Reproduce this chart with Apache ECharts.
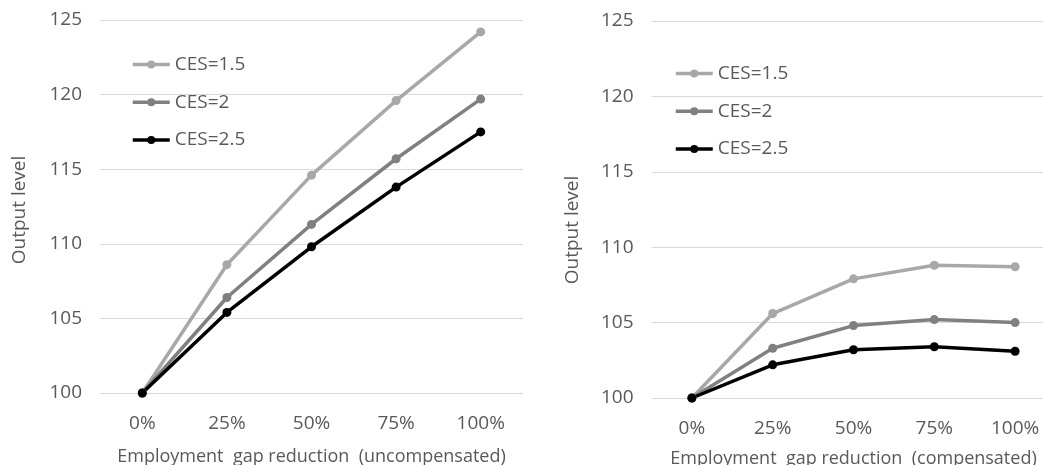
<!DOCTYPE html>
<html>
<head>
<meta charset="utf-8">
<script src="https://cdn.jsdelivr.net/npm/echarts@6/dist/echarts.min.js"></script>
<style>html,body{margin:0;padding:0;background:#fff}#c{width:1043px;height:465px}</style>
</head>
<body>
<div id="c"></div>
<script>
const categories = ['0%', '25%', '50%', '75%', '100%'];
const seriesNames = ['CES=1.5', 'CES=2', 'CES=2.5'];
const leftCes15 = [100, 108.6, 114.6, 119.6, 124.2];
const leftCes2 = [100, 106.4, 111.3, 115.7, 119.7];
const leftCes25 = [100, 105.4, 109.8, 113.8, 117.5];
const rightCes15 = [100, 105.6, 107.9, 108.8, 108.7];
const rightCes2 = [100, 103.3, 104.8, 105.2, 105.0];
const rightCes25 = [100, 102.2, 103.2, 103.4, 103.1];
const leftXName = 'Employment  gap reduction  (uncompensated)';
const rightXName = 'Employment  gap reduction  (compensated)';
const yName = 'Output level';

const colors = ['#a8a8a8', '#808080', '#000000'];
const FONT = 'Open Sans';
const TXT = '#595959';

const chart = echarts.init(document.getElementById('c'), null, {renderer: 'canvas'});

function xAxis(gi, name, margin, gap) {
  return {
    type: 'category', gridIndex: gi, data: categories, boundaryGap: true,
    axisLine: {show: false}, axisTick: {show: false},
    axisLabel: {color: TXT, fontFamily: FONT, fontSize: 19, margin: margin},
    name: name, nameLocation: 'middle', nameGap: gap,
    nameTextStyle: {color: TXT, fontFamily: FONT, fontSize: 18}
  };
}
function yAxis(gi, gap, pad) {
  return {
    type: 'value', gridIndex: gi, min: 100, max: 125, interval: 5,
    axisLine: {show: false}, axisTick: {show: false},
    splitLine: {lineStyle: {color: '#d9d9d9', width: 1}},
    axisLabel: {color: TXT, fontFamily: FONT, fontSize: 19, margin: 18},
    name: yName, nameLocation: 'middle', nameGap: gap, nameRotate: 90,
    nameTextStyle: {color: TXT, fontFamily: FONT, fontSize: 19, padding: pad}
  };
}
function line(name, data, idx, gi) {
  return {
    name: name, type: 'line', data: data, xAxisIndex: gi, yAxisIndex: gi,
    symbol: 'circle', symbolSize: 9, color: colors[idx],
    lineStyle: {width: 3.5, color: colors[idx]},
    itemStyle: {color: colors[idx]}, animation: false
  };
}
function legend(left, top) {
  return {
    orient: 'vertical', left: left, top: top, itemWidth: 37, itemHeight: 10, itemGap: 18.7,
    data: seriesNames, lineStyle: {width: 3.5},
    textStyle: {color: TXT, fontFamily: FONT, fontSize: 19}
  };
}

chart.setOption({
  backgroundColor: '#fff',
  animation: false,
  grid: [
    {left: 100, right: 520, top: 20, bottom: 72, outerBoundsMode: 'none', containLabel: false},
    {left: 651.5, right: -12.5, top: 21, bottom: 67, outerBoundsMode: 'none', containLabel: false}
  ],
  legend: [legend(126, 50), legend(669, 59)],
  xAxis: [xAxis(0, leftXName, 21, 55), xAxis(1, rightXName, 21, 52)],
  yAxis: [yAxis(0, 71, [0, 7, 0, 0]), yAxis(1, 69, [0, 41, 0, 0])],
  series: [
    line(seriesNames[0], leftCes15, 0, 0),
    line(seriesNames[1], leftCes2, 1, 0),
    line(seriesNames[2], leftCes25, 2, 0),
    line(seriesNames[0], rightCes15, 0, 1),
    line(seriesNames[1], rightCes2, 1, 1),
    line(seriesNames[2], rightCes25, 2, 1)
  ]
});
</script>
</body>
</html>
